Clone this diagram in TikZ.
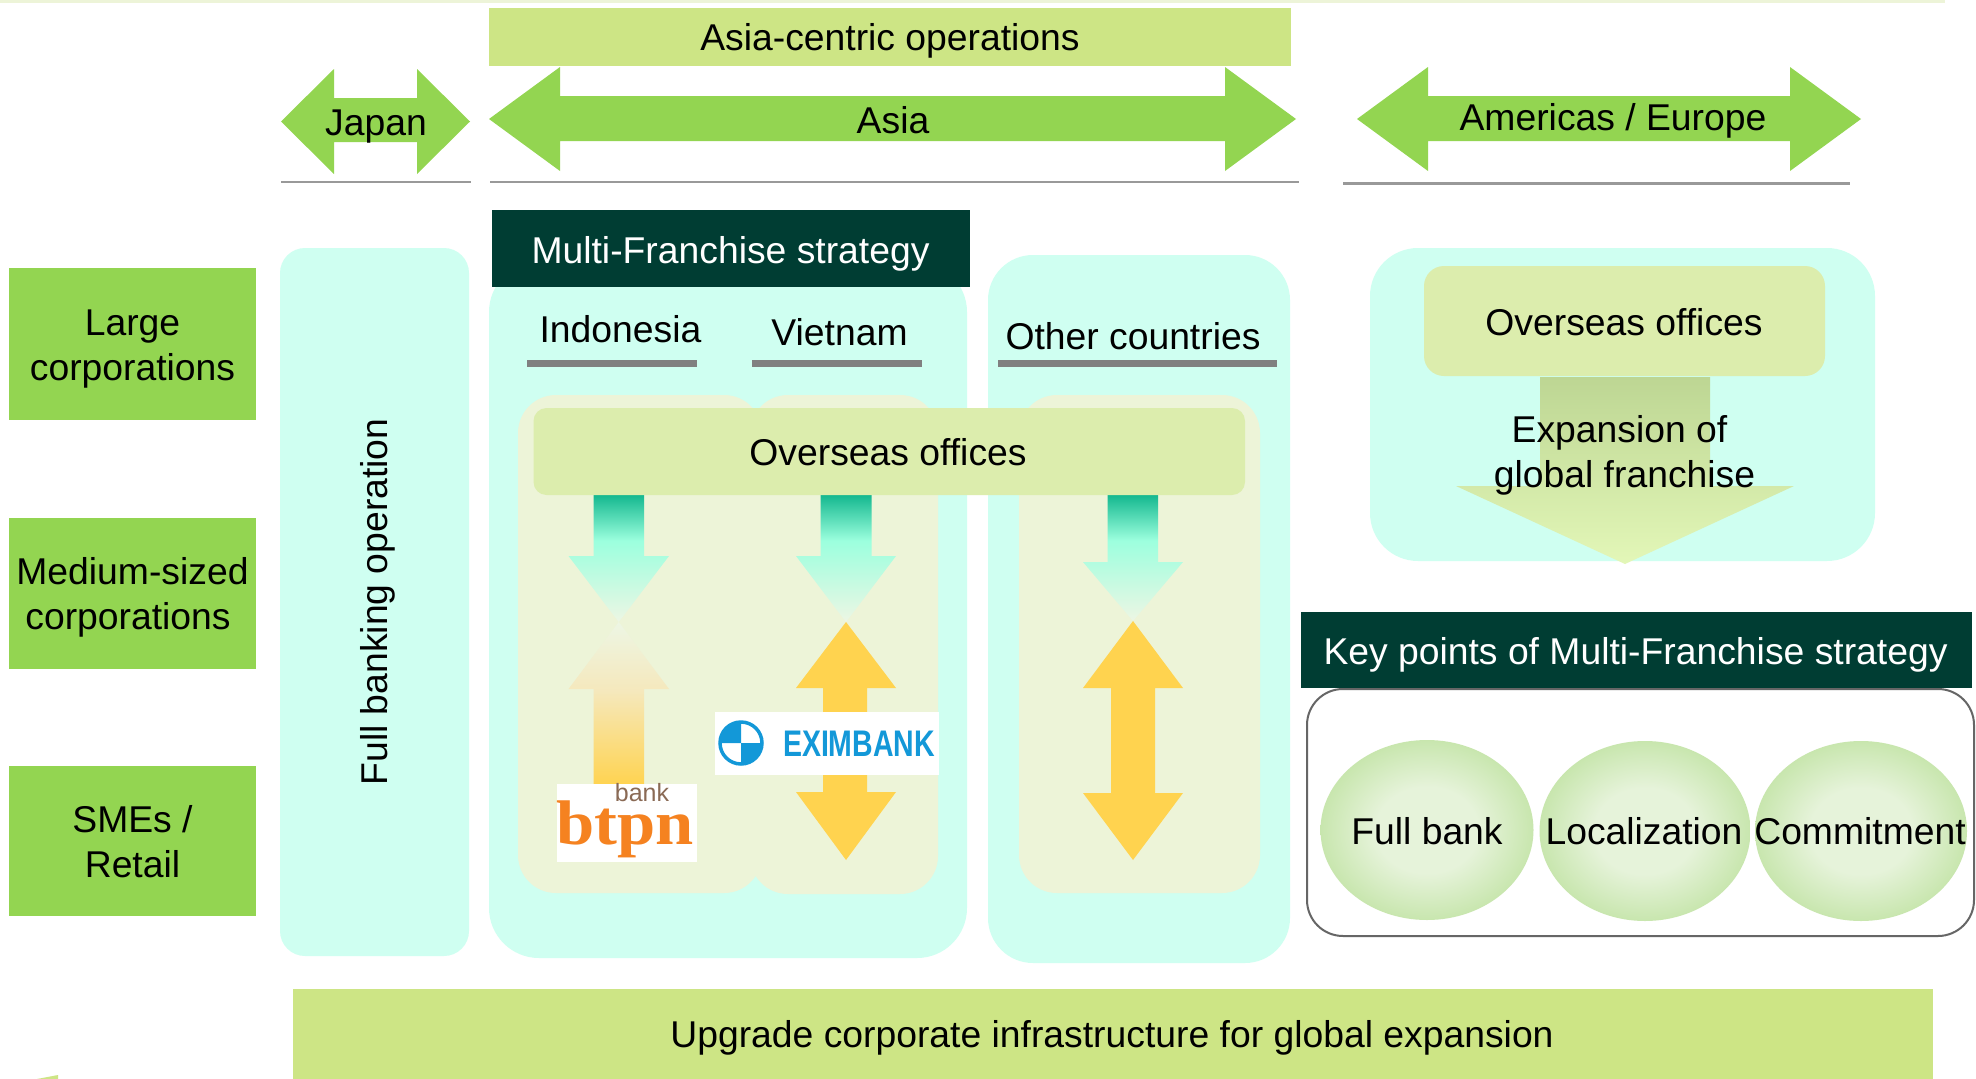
\documentclass[tikz,border=0pt]{standalone}
\usepackage{fontspec}
\setmainfont{Liberation Sans}
\newfontfamily\btpnfont{Liberation Serif}
\definecolor{cPanel}{HTML}{CFFFF1}
\definecolor{cBeige}{HTML}{EDF4D8}
\definecolor{cBar}{HTML}{DCEDAD}
\definecolor{cLime}{HTML}{CDE585}
\definecolor{cGreen}{HTML}{93D551}
\definecolor{cDark}{HTML}{003D33}
\definecolor{cYellow}{HTML}{FFD34F}
\definecolor{cTealA}{HTML}{14B88F}
\definecolor{cTealB}{HTML}{9CFFDE}
\definecolor{cPale}{HTML}{EDF6E4}
\definecolor{cSand}{HTML}{F5E8BC}
\definecolor{cShaftA}{HTML}{BDD693}
\definecolor{cShaftB}{HTML}{E3F7B8}
\definecolor{cOvalA}{HTML}{C8E6AE}
\definecolor{cOvalB}{HTML}{E6F3DA}
\definecolor{cExim}{HTML}{1398D8}
\definecolor{cBtpn}{HTML}{F58220}
\definecolor{cBankText}{HTML}{8A6A55}
\pgfdeclareverticalshading{tealdown}{100bp}{color(0bp)=(cPale); color(25bp)=(cPale); color(57bp)=(cTealB); color(75bp)=(cTealA); color(100bp)=(cTealA)}
\pgfdeclareverticalshading{sandup}{100bp}{color(0bp)=(cYellow); color(25bp)=(cYellow); color(54bp)=(cSand); color(75bp)=(cPale); color(100bp)=(cPale)}
\pgfdeclareverticalshading{limedown}{100bp}{color(0bp)=(cShaftB); color(25bp)=(cShaftB); color(75bp)=(cShaftA); color(100bp)=(cShaftA)}
\pgfdeclareradialshading{ovalfill}{\pgfpoint{0bp}{0bp}}{color(0bp)=(cOvalB); color(12bp)=(cOvalB); color(25bp)=(cOvalA); color(50bp)=(cOvalA)}
\tikzset{
  txt/.style={font=\fontsize{37.3}{45}\selectfont, text=black, inner sep=0pt, align=center},
  wtxt/.style={txt, text=white},
  panel/.style={fill=cPanel, draw=none},
  beige/.style={fill=cBeige, draw=none},
  greenfill/.style={fill=cGreen, draw=none},
  yellowfill/.style={fill=cYellow, draw=none},
  rule/.style={draw=black!40, line width=2.5pt},
  underrule/.style={draw=black!50, line width=7pt},
}
% horizontal double arrow: x0, x1, x2, x3, ytop, yshaft top, yshaft bottom, ybottom
\newcommand{\hdouble}[8]{\fill[greenfill] (#1,{(#5+#8)/2}) -- (#2,#5) -- (#2,#6) -- (#3,#6) -- (#3,#5) -- (#4,{(#5+#8)/2}) -- (#3,#8) -- (#3,#7) -- (#2,#7) -- (#2,#8) -- cycle;}
% single arrow: shaft l, shaft r, tail y, base y, head l, head r, tip y
\newcommand{\arrowpath}[7]{(#1,#3) -- (#2,#3) -- (#2,#4) -- (#6,#4) -- ({(#5+#6)/2},#7) -- (#5,#4) -- (#1,#4) -- cycle}
\begin{document}
\begin{tikzpicture}[x=1pt,y=-1pt]
\useasboundingbox (0,0) rectangle (1976,1079);
\fill[white] (0,0) rectangle (1976,1079);
% faint top line and bottom-left speck
\fill[cBeige] (0,0) rectangle (1945,3);
\fill[cLime] (37,1079) -- (58,1075) -- (58,1079) -- cycle;
% top bars and arrows
\fill[cLime] (489,8) rectangle (1291,66);
\node[txt] (asiacentric) at (890,41) {Asia-centric operations};
\hdouble{281}{334}{417}{470}{69}{98}{142}{174}
\hdouble{489}{560}{1225}{1296}{67}{96}{141}{171}
\hdouble{1357}{1428}{1790}{1861}{67}{96}{141}{171}
\node[txt] (japan) at (376,127) {Japan};
\node[txt] (asia) at (893,120) {Asia};
\node[txt] (americas) at (1613,121) {Americas / Europe};
\draw[rule] (281,182) -- (471,182);
\draw[rule] (490,182) -- (1299,182);
\draw[rule] (1343,183.5) -- (1850,183.5);
% left labels
\fill[cGreen] (9,268) rectangle (256,420);
\fill[cGreen] (9,518) rectangle (256,669);
\fill[cGreen] (9,766) rectangle (256,916);
\node[txt] (large) at (132.5,349.5) {Large\\corporations};
\node[txt] (medium) at (129.5,597) {\hspace*{6pt}Medium-sized\\corporations\hspace*{3pt}};
\node[txt] (smes) at (132.5,842) {SMEs /\\Retail};
% panels
\fill[panel, rounded corners=25pt] (280,248) rectangle (469,956);
\node[txt, rotate=90] (fullop) at (378,602) {Full banking operation};
\fill[panel, rounded corners=50pt] (489,262) rectangle (967,958);
\fill[panel, rounded corners=45pt] (988,255) rectangle (1290,963);
\fill[cDark] (492,210) rectangle (970,287);
\node[wtxt] (multi) at (730.5,254) {Multi-Franchise strategy};
\node[txt] (indonesia) at (620.5,329) {Indonesia};
\node[txt] (vietnam) at (839.5,332) {Vietnam};
\node[txt] (other) at (1133,336) {Other countries};
\draw[underrule] (527,363) -- (697,363);
\draw[underrule] (752,363) -- (922,363);
\draw[underrule] (998,363) -- (1277,363);
% beige panels
\fill[beige, rounded corners=38pt] (518,395) rectangle (762,893);
\fill[beige, rounded corners=38pt] (750,395) rectangle (938,894);
\fill[beige, rounded corners=38pt] (1019,395) rectangle (1260,893);
% column arrows
\shade[shading=tealdown] \arrowpath{593.5}{644}{495}{556}{568.5}{669}{622};
\shade[shading=sandup] \arrowpath{593.5}{644}{786}{689}{568.5}{669}{622};
\shade[shading=tealdown] \arrowpath{820.5}{871.5}{495}{556}{796}{896}{622};
\shade[shading=tealdown] \arrowpath{1107.5}{1158}{495}{562}{1083}{1183}{621};
\fill[yellowfill] (846,622) -- (896,688) -- (867,688) -- (867,792) -- (896,792) -- (846,860) -- (796,792) -- (823,792) -- (823,688) -- (796,688) -- cycle;
\fill[yellowfill] (1133,621) -- (1183,688) -- (1155,688) -- (1155,793) -- (1183,793) -- (1133,860) -- (1083,793) -- (1111,793) -- (1111,688) -- (1083,688) -- cycle;
% overseas bar
\fill[cBar, rounded corners=13pt] (533.5,408) rectangle (1245,495);
\node[txt] (offices) at (888,452.5) {Overseas offices};
% btpn logo
\fill[white] (557,784) rectangle (697,862);
\node[inner sep=0pt, text=cBankText, font=\fontsize{25}{25}\selectfont, anchor=base] (bank) at (642,801) {bank};
\node[inner sep=0pt, text=cBtpn, font=\btpnfont\bfseries\fontsize{63}{63}\selectfont, xscale=1.09, anchor=base] (btpn) at (625,844) {btpn};
% Eximbank logo
\fill[white] (715,712) rectangle (939,775);
\draw[cExim, line width=3.5pt, fill=white] (741,743) circle[radius=21];
\fill[cExim] (741,722) arc[start angle=270,end angle=180,radius=21] -- (741,743) -- cycle;
\fill[cExim] (762,743) arc[start angle=0,end angle=90,radius=21] -- (741,743) -- cycle;
\node[inner sep=0pt, text=cExim, font=\bfseries\fontsize{37}{37}\selectfont, xscale=0.77] (exim) at (859,744) {EXIMBANK};
% right panel
\fill[panel, rounded corners=48pt] (1370,248) rectangle (1875,561);
\fill[cBar, rounded corners=20pt] (1424,266) rectangle (1825,376);
\shade[shading=limedown] \arrowpath{1540}{1710}{377}{486}{1456}{1794}{564};
\node[txt] (offices2) at (1624,322) {Overseas offices};
\node[txt] (expansion) at (1622,455) {Expansion of\hspace*{5pt}\\\hspace*{5pt}global franchise};
% key points
\fill[cDark] (1300.5,612) rectangle (1972,688);
\node[wtxt] (key) at (1635.5,655) {Key points of Multi-Franchise strategy};
\draw[draw=black!60, line width=2pt, rounded corners=36pt] (1307,689) rectangle (1974,936);
\shade[shading=ovalfill] (1427,830) ellipse[x radius=106.5, y radius=90];
\shade[shading=ovalfill] (1645,831) ellipse[x radius=105.5, y radius=90];
\shade[shading=ovalfill] (1861,831) ellipse[x radius=106, y radius=90];
\node[txt] (fullbank) at (1427,831) {Full bank};
\node[txt] (local) at (1644,831) {Localization};
\node[txt] (commit) at (1860,831) {Commitment};
% bottom bar
\fill[cLime] (293,989) rectangle (1933,1079);
\node[txt] (upgrade) at (1112,1038) {Upgrade corporate infrastructure for global expansion};
\end{tikzpicture}
\end{document}
